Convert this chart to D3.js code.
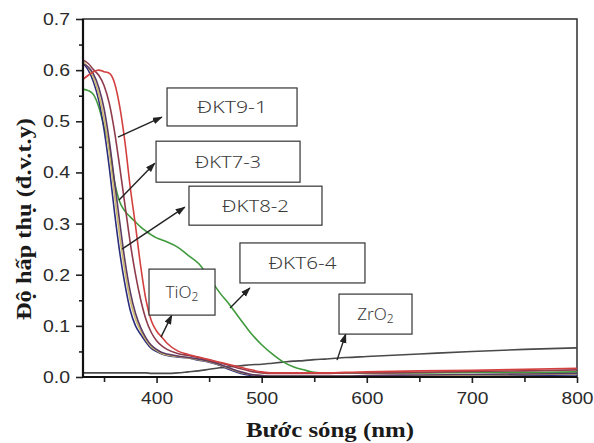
<!DOCTYPE html>
<html><head><meta charset="utf-8">
<script src="https://cdn.jsdelivr.net/npm/d3@7"></script>
<style>body{margin:0;background:#fff}svg{display:block;background:#fff}</style>
</head><body>
<svg id="chart" width="594" height="443"></svg>
<script>
// ---- data ----
const wavelengths = [330,335,340,345,350,355,360,365,370,375,380,385,390,395,400,405,410,
  420,430,440,450,460,470,480,490,500,510,520,530,540,550,560,
  580,600,650,700,750,800];

const absDKT82 = [0.614,0.600,0.577,0.541,0.484,0.410,0.322,0.243,0.180,0.130,0.100,0.083,0.068,0.056,0.050,0.045,0.042,
  0.039,0.037,0.033,0.029,0.023,0.014,0.007,0.003,0.002,0.001,0.001,0.001,0.001,0.001,0.001,
  0.001,0.001,0.002,0.002,0.003,0.004];
const absDKT73 = [0.616,0.605,0.585,0.553,0.505,0.440,0.355,0.275,0.205,0.150,0.113,0.090,0.072,0.059,0.052,0.046,0.043,
  0.040,0.037,0.034,0.030,0.024,0.016,0.009,0.005,0.003,0.002,0.002,0.002,0.002,0.002,0.002,
  0.002,0.003,0.003,0.004,0.005,0.006];
const absUnlabeled = [0.612,0.606,0.592,0.566,0.525,0.462,0.382,0.302,0.226,0.166,0.124,0.096,0.076,0.062,0.054,0.048,0.045,
  0.041,0.038,0.035,0.031,0.025,0.017,0.010,0.005,0.003,0.002,0.002,0.002,0.002,0.002,0.002,
  0.002,0.003,0.004,0.005,0.006,0.007];
const absDKT91 = [0.620,0.613,0.601,0.590,0.570,0.535,0.480,0.410,0.335,0.262,0.200,0.150,0.112,0.087,0.071,0.061,0.054,
  0.046,0.042,0.038,0.033,0.028,0.022,0.016,0.011,0.008,0.007,0.007,0.007,0.007,0.007,0.007,
  0.008,0.008,0.009,0.011,0.012,0.014];
const absTiO2 = [0.582,0.590,0.597,0.600,0.597,0.594,0.575,0.528,0.458,0.370,0.295,0.215,0.150,0.110,0.090,0.078,0.066,
  0.051,0.044,0.039,0.034,0.029,0.024,0.019,0.014,0.010,0.008,0.008,0.008,0.008,0.008,0.008,
  0.009,0.010,0.012,0.013,0.015,0.017];
const absDKT64 = [0.563,0.560,0.552,0.528,0.490,0.450,0.382,0.342,0.324,0.313,0.303,0.293,0.285,0.278,0.272,0.268,0.264,
  0.254,0.238,0.222,0.195,0.165,0.140,0.112,0.085,0.063,0.045,0.030,0.020,0.014,0.009,0.008,
  0.008,0.008,0.008,0.009,0.009,0.010];
const absZrO2 = [0.008,0.008,0.008,0.008,0.008,0.008,0.008,0.008,0.008,0.008,0.008,0.008,0.008,0.007,0.007,0.007,0.007,
  0.008,0.010,0.012,0.015,0.018,0.020,0.022,0.024,0.025,0.027,0.029,0.031,0.032,0.034,0.035,
  0.038,0.040,0.045,0.050,0.054,0.057];

const xMajorTicks = [400,500,600,700,800];
const xMinorTicks = [350,450,550,650,750];
const yMajorTicks = [0,0.1,0.2,0.3,0.4,0.5,0.6,0.7];
const yMinorTicks = [0.05,0.15,0.25,0.35,0.45,0.55,0.65];

const xTitle = "Bước sóng (nm)";
const yTitle = "Độ hấp thụ (đ.v.t.y)";

// ---- series table ----
const series = [
  {key:"ZrO2",    values:absZrO2,      color:"#4a4a4a"},
  {key:"ĐKT6-4",  values:absDKT64,     color:"#3f9a3c"},
  {key:"ĐKT8-2",  values:absDKT82,     color:"#2b2d7c"},
  {key:"ĐKT7-3",  values:absDKT73,     color:"#cdb96b"},
  {key:"other",   values:absUnlabeled, color:"#5b3b63"},
  {key:"ĐKT9-1",  values:absDKT91,     color:"#8e3b4c"},
  {key:"TiO2",    values:absTiO2,      color:"#d2403f"}
];

// ---- annotations: box centre and arrow ends in data units ----
const notes = [
  {text:"ĐKT9-1", cx:471.8, cy:0.528, w:130, h:38, tl:70, from:[363.3,0.469], to:[405.0,0.508]},
  {text:"ĐKT7-3", cx:468.0, cy:0.421, w:144, h:41, tl:66, from:[364.3,0.346], to:[398.3,0.418]},
  {text:"ĐKT8-2", cx:494.1, cy:0.335, w:133, h:39, tl:67, from:[367.1,0.250], to:[426.8,0.332]},
  {text:"ĐKT6-4", cx:538.8, cy:0.223, w:125, h:40, tl:68, from:[469.9,0.135], to:[488.7,0.174]},
  {text:"TiO", sub:"2", cx:424.2, cy:0.166, w:66, h:46, from:[404.2,0.078], to:[414.5,0.121]},
  {text:"ZrO", sub:"2", cx:608.3, cy:0.123, w:73, h:40, from:[571.7,0.033], to:[580.0,0.084]}
];

// ---- drawing ----
const svg = d3.select("#chart");
const x = d3.scaleLinear().domain([330,800]).range([83,577]);
const y = d3.scaleLinear().domain([0,0.7]).range([377,19]);

const defs = svg.append("defs");
defs.append("clipPath").attr("id","plotclip")
  .append("rect").attr("x",x(330)).attr("y",y(0.7)).attr("width",x(800)-x(330)).attr("height",y(0)-y(0.7));
defs.append("marker").attr("id","arrow").attr("markerUnits","userSpaceOnUse")
  .attr("markerWidth",12).attr("markerHeight",10).attr("refX",9).attr("refY",3.5)
  .attr("orient","auto")
  .append("path").attr("d","M0,0 L10,3.5 L0,7 Z").attr("fill","#222");

// frame
svg.append("rect").attr("x",x(330)).attr("y",y(0.7))
  .attr("width",x(800)-x(330)).attr("height",y(0)-y(0.7))
  .attr("fill","none").attr("stroke","#3a3a3a").attr("stroke-width",1.6);

// lines
const line = d3.line().x((d,i)=>x(wavelengths[i])).y(d=>y(d)).curve(d3.curveMonotoneX);
const gLines = svg.append("g").attr("clip-path","url(#plotclip)");
gLines.selectAll("path").data(series).join("path")
  .attr("d",d=>line(d.values)).attr("fill","none")
  .attr("stroke",d=>d.color).attr("stroke-width",1.6).attr("stroke-linejoin","round");

// axes
const tickFont = "Liberation Sans, Arial, sans-serif";
const gx = svg.append("g").attr("transform",`translate(0,${y(0)})`)
  .call(d3.axisBottom(x).tickValues(xMajorTicks).tickSize(6).tickPadding(9).tickFormat(d3.format("d")));
const gxm = svg.append("g").attr("transform",`translate(0,${y(0)})`)
  .call(d3.axisBottom(x).tickValues(xMinorTicks).tickSize(5).tickFormat(""));
const gy = svg.append("g").attr("transform",`translate(${x(330)},0)`)
  .call(d3.axisLeft(y).tickValues(yMajorTicks).tickSize(7).tickPadding(6).tickFormat(d3.format(".1f")));
const gym = svg.append("g").attr("transform",`translate(${x(330)},0)`)
  .call(d3.axisLeft(y).tickValues(yMinorTicks).tickSize(4).tickFormat(""));
[gx,gxm,gy,gym].forEach(g=>{
  g.select(".domain").remove();
  g.selectAll(".tick line").attr("stroke","#222").attr("stroke-width",1.6);
  g.selectAll(".tick text").attr("font-family",tickFont).attr("font-size",17).attr("fill","#2a2a2a");
});
gx.selectAll(".tick text").attr("textLength",32).attr("lengthAdjust","spacingAndGlyphs");
gy.selectAll(".tick text").attr("textLength",27).attr("lengthAdjust","spacingAndGlyphs");
// axis lines
svg.append("line").attr("x1",x(330)).attr("x2",x(330)).attr("y1",y(0.7)).attr("y2",y(0)+1)
  .attr("stroke","#111").attr("stroke-width",2.2);
svg.append("line").attr("x1",x(330)-1).attr("x2",x(800)).attr("y1",y(0)).attr("y2",y(0))
  .attr("stroke","#111").attr("stroke-width",2.2);

// titles
svg.append("text").attr("x",(x(330)+x(800))/2).attr("y",437)
  .attr("text-anchor","middle").attr("font-family","Liberation Serif, serif")
  .attr("font-weight","bold").attr("font-size",21).attr("fill","#1a1a1a")
  .attr("textLength",168).attr("lengthAdjust","spacingAndGlyphs").text(xTitle);
svg.append("text").attr("transform",`translate(31,${(118+320)/2}) rotate(-90)`)
  .attr("text-anchor","middle").attr("font-family","Liberation Serif, serif")
  .attr("font-weight","bold").attr("font-size",21).attr("fill","#1a1a1a")
  .attr("textLength",202).attr("lengthAdjust","spacingAndGlyphs").text(yTitle);

// annotations
const gN = svg.append("g");
notes.forEach(n=>{
  const cx = x(n.cx), cy = y(n.cy);
  gN.append("line").attr("x1",x(n.from[0])).attr("y1",y(n.from[1]))
    .attr("x2",x(n.to[0])).attr("y2",y(n.to[1]))
    .attr("stroke","#222").attr("stroke-width",1.4).attr("marker-end","url(#arrow)");
  gN.append("rect").attr("x",cx-n.w/2).attr("y",cy-n.h/2).attr("width",n.w).attr("height",n.h)
    .attr("fill","#fff").attr("stroke","#333").attr("stroke-width",1.2);
  const t = gN.append("text").attr("x",cx).attr("y",cy+6).attr("text-anchor","middle")
    .attr("font-family","Noto Sans, sans-serif").attr("font-weight",300)
    .attr("font-size",17).attr("fill","#3a3a3a");
  if (n.sub) {
    t.append("tspan").text(n.text);
    t.append("tspan").attr("font-size",12).attr("dy",3).text(n.sub);
  } else {
    t.attr("textLength",n.tl).attr("lengthAdjust","spacingAndGlyphs").text(n.text);
  }
});
</script>
</body></html>
